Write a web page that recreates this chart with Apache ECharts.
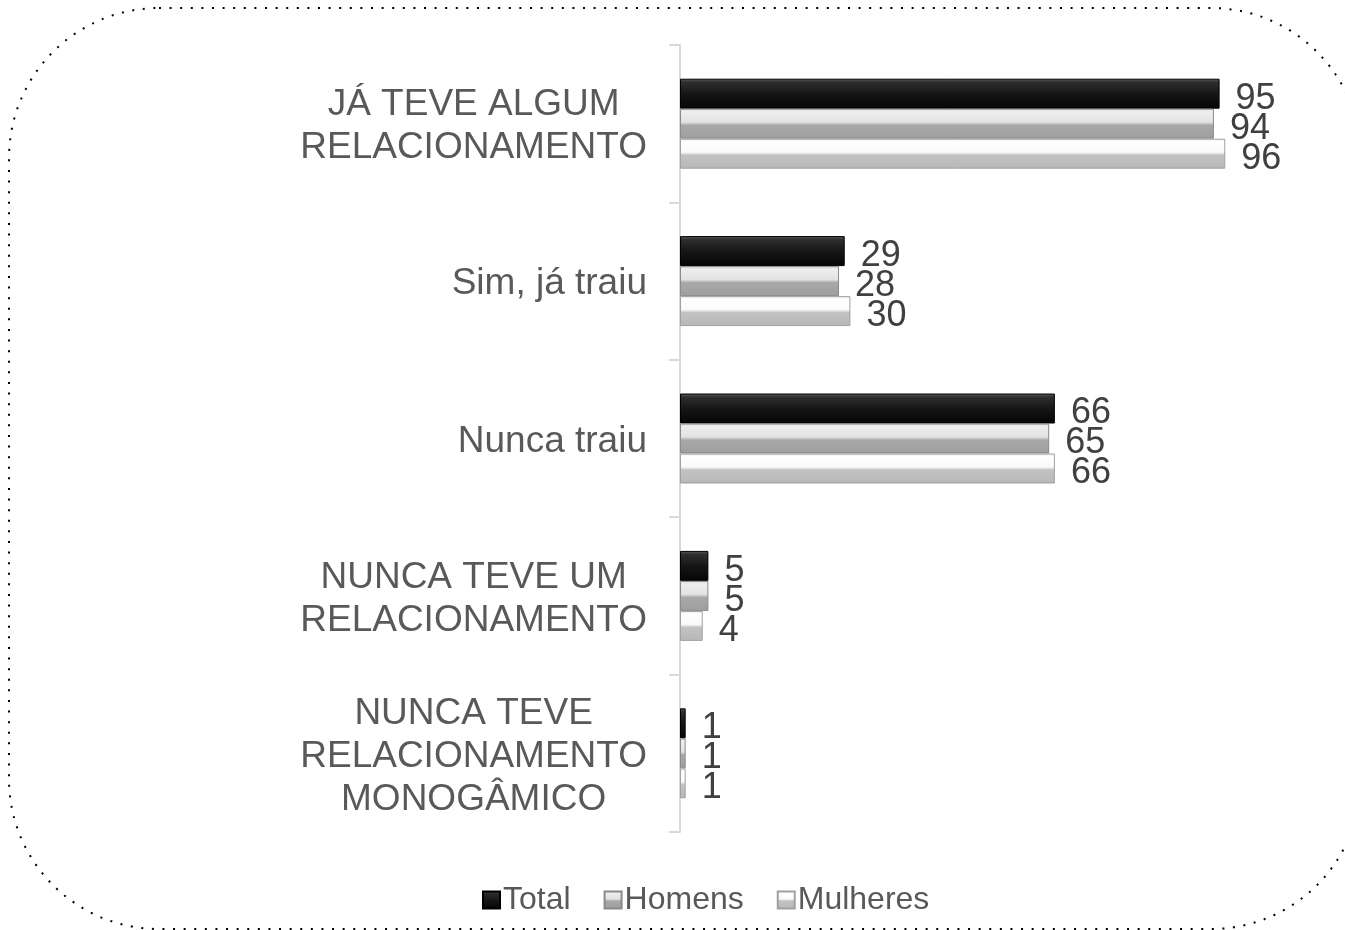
<!DOCTYPE html>
<html>
<head>
<meta charset="utf-8">
<script src="https://cdn.jsdelivr.net/npm/echarts@6/dist/echarts.min.js"></script>
<style>
html,body{margin:0;padding:0;background:#fff;}
#chart{width:1345px;height:930px;}
</style>
</head>
<body>
<div id="chart"></div>
<script>
const categories = ['JÁ TEVE ALGUM\nRELACIONAMENTO', 'Sim, já traiu', 'Nunca traiu', 'NUNCA TEVE UM\nRELACIONAMENTO', 'NUNCA TEVE\nRELACIONAMENTO\nMONOGÂMICO'];
const seriesNames = ['Total', 'Homens', 'Mulheres'];
const totalValues = [95, 29, 66, 5, 1];
const homensValues = [94, 28, 65, 5, 1];
const mulheresValues = [96, 30, 66, 4, 1];

const FONT = '"Liberation Sans", Arial, sans-serif';

function grad(stops) {
  return new echarts.graphic.LinearGradient(0, 0, 0, 1, stops.map(c => ({offset: c[0], color: c[1]})));
}
const styles = [
  {color: grad([[0, '#5a5a5a'], [0.12, '#2e2e2e'], [0.5, '#161616'], [1, '#050505']]), borderColor: '#000', borderWidth: 1},
  {color: grad([[0, '#d8d8d8'], [0.1, '#eeeeee'], [0.45, '#e2e2e2'], [0.55, '#a8a8a8'], [1, '#9e9e9e']]), borderColor: '#8a8a8a', borderWidth: 1},
  {color: grad([[0, '#e8e8e8'], [0.1, '#ffffff'], [0.45, '#fafafa'], [0.55, '#c2c2c2'], [1, '#b8b8b8']]), borderColor: '#a0a0a0', borderWidth: 1}
];
const dataSets = [totalValues, homensValues, mulheresValues];

const chart = echarts.init(document.getElementById('chart'));
chart.setOption({
  animation: false,
  backgroundColor: '#fff',
  textStyle: {fontFamily: FONT},
  graphic: [{
    type: 'rect',
    shape: {x: 9, y: 8, width: 1352, height: 921, r: 150},
    style: {fill: 'none', stroke: '#000', lineWidth: 2, lineDash: [2, 8.6]},
    z: 0
  }],
  grid: {left: 680, top: 45, width: 568, height: 787, containLabel: false},
  xAxis: {type: 'value', min: 0, max: 100, show: false, splitLine: {show: false}},
  yAxis: {
    type: 'category', data: categories, inverse: true,
    axisLine: {show: true, lineStyle: {color: '#d9d9d9', width: 2}},
    axisTick: {show: true, length: 11, lineStyle: {color: '#d9d9d9', width: 2}},
    axisLabel: {
      margin: 33, fontSize: 37, color: '#595959', fontFamily: FONT, align: 'right', lineHeight: 43,
      padding: [6, 0, 0, 0],
      formatter: v => v.split('\n').map(l => '{c|' + l + '}').join('\n'),
      rich: {c: {align: 'center', fontSize: 37, lineHeight: 43, color: '#595959', fontFamily: FONT}}
    }
  },
  legend: {
    data: seriesNames, left: 477, top: 879, itemWidth: 17, itemHeight: 17, itemGap: 33,
    icon: 'rect',
    textStyle: {fontSize: 32, color: '#595959', fontFamily: FONT, padding: [0, 0, 0, -2]}
  },
  series: seriesNames.map((name, i) => ({
    name, type: 'bar', data: dataSets[i], barWidth: 30, barGap: '0%',
    itemStyle: styles[i],
    label: {show: true, position: 'right', distance: 16, offset: [0, 5], fontSize: 36, color: '#404040', fontFamily: FONT}
  }))
});
</script>
</body>
</html>
